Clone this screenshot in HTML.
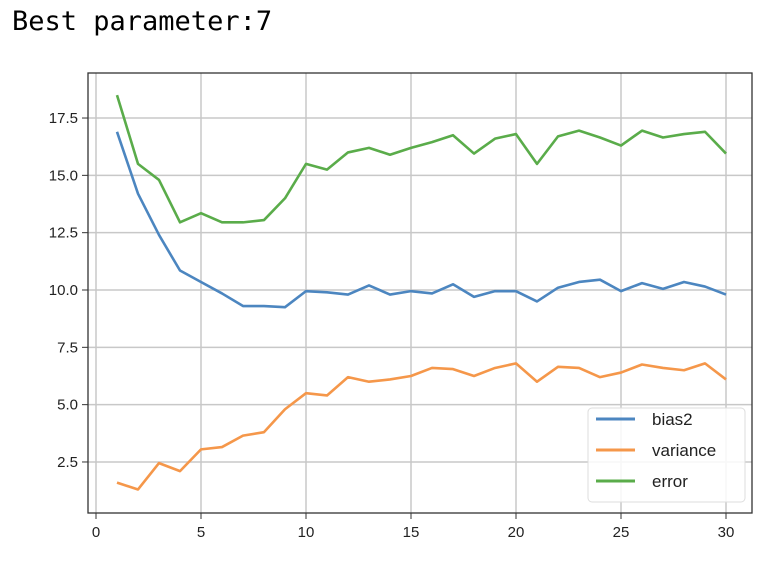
<!DOCTYPE html>
<html><head><meta charset="utf-8"><style>
body{margin:0;background:#fff;width:782px;height:562px;overflow:hidden}
</style></head><body>
<svg width="782" height="562" xmlns="http://www.w3.org/2000/svg">
<text x="12" y="30" font-family="DejaVu Sans Mono, monospace" font-size="27" fill="#000">Best parameter:7</text>
<g id="grid"></g>
<g id="lines"></g>
<rect x="88" y="73" width="664" height="440" fill="none" stroke="#333" stroke-width="1.3"/>
<g id="ticks" font-family="Liberation Sans, sans-serif" font-size="15" fill="#222"></g>
<g>
<rect x="588" y="408" width="157" height="94" rx="4" fill="#fff" fill-opacity="0.85" stroke="#ddd"/>
<line x1="596" y1="419" x2="635" y2="419" stroke="#4c86c0" stroke-width="3"/>
<text x="652" y="425" font-family="Liberation Sans, sans-serif" font-size="17" fill="#222">bias2</text>
<line x1="596" y1="450" x2="635" y2="450" stroke="#f5974a" stroke-width="3"/>
<text x="652" y="456" font-family="Liberation Sans, sans-serif" font-size="17" fill="#222">variance</text>
<line x1="596" y1="481" x2="635" y2="481" stroke="#5aac4a" stroke-width="3"/>
<text x="652" y="487" font-family="Liberation Sans, sans-serif" font-size="17" fill="#222">error</text>
</g>
</svg>
<script>
const params=[1,2,3,4,5,6,7,8,9,10,11,12,13,14,15,16,17,18,19,20,21,22,23,24,25,26,27,28,29,30];
const bias2=[16.9,14.2,12.4,10.85,10.35,9.85,9.3,9.3,9.25,9.95,9.9,9.8,10.2,9.8,9.95,9.85,10.25,9.7,9.95,9.95,9.5,10.1,10.35,10.45,9.95,10.3,10.05,10.35,10.15,9.8];
const variance=[1.6,1.3,2.45,2.1,3.05,3.15,3.65,3.8,4.8,5.5,5.4,6.2,6.0,6.1,6.25,6.6,6.55,6.25,6.6,6.8,6.0,6.65,6.6,6.2,6.4,6.75,6.6,6.5,6.8,6.1];
const errorVals=[18.5,15.5,14.8,12.95,13.35,12.95,12.95,13.05,14.0,15.5,15.25,16.0,16.2,15.9,16.2,16.45,16.75,15.95,16.6,16.8,15.5,16.7,16.95,16.65,16.3,16.95,16.65,16.8,16.9,15.95];
const xTicks=[0,5,10,15,20,25,30];
const yTicks=[2.5,5.0,7.5,10.0,12.5,15.0,17.5];
const NS='http://www.w3.org/2000/svg';
const xs=v=>96+v*21;
const ys=v=>290-(v-10)*22.93;
const grid=document.getElementById('grid'),ticks=document.getElementById('ticks'),lines=document.getElementById('lines');
function mk(t,a,p){const e=document.createElementNS(NS,t);for(const k in a)e.setAttribute(k,a[k]);p.appendChild(e);return e;}
xTicks.forEach(v=>{
 const g=mk('line',{x1:xs(v),x2:xs(v),y1:73,y2:513,stroke:'#c8c8c8','stroke-width':1.5},grid);
 
 
 mk('line',{x1:xs(v),x2:xs(v),y1:513,y2:519,stroke:'#333'},ticks);
 const l=mk('text',{x:xs(v),y:537,'text-anchor':'middle'},ticks);l.textContent=v;
 
 
});
yTicks.forEach(v=>{
 const g=mk('line',{x1:88,x2:752,y1:ys(v),y2:ys(v),stroke:'#c8c8c8','stroke-width':1.5},grid);
 
 
 mk('line',{x1:82,x2:88,y1:ys(v),y2:ys(v),stroke:'#333'},ticks);
 const l=mk('text',{x:78,y:ys(v)+5,'text-anchor':'end'},ticks);l.textContent=v.toFixed(1);
 
 
});
[[bias2,'#4c86c0','bias2-line'],[variance,'#f5974a','variance-line'],[errorVals,'#5aac4a','error-line']].forEach(([d,c,n])=>{
 const p=mk('polyline',{points:d.map((v,i)=>xs(params[i])+','+ys(v)).join(' '),fill:'none',stroke:c,'stroke-width':2.6,'stroke-linejoin':'round'},lines);
 
 
});
</script>
</body></html>
